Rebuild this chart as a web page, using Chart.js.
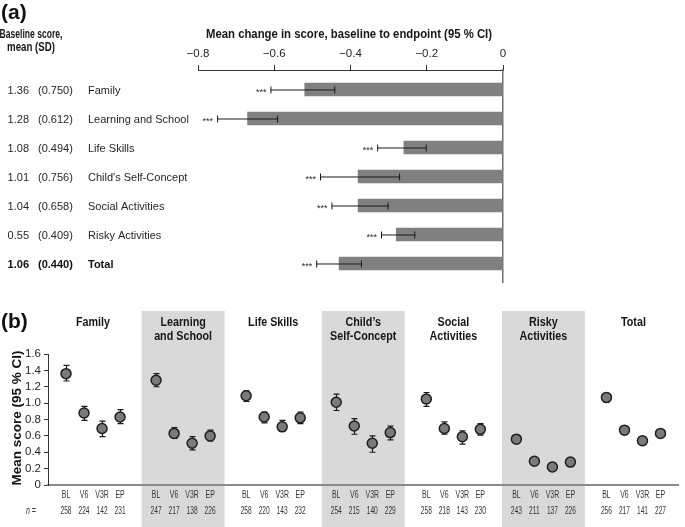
<!DOCTYPE html>
<html>
<head>
<meta charset="utf-8">
<script src="https://cdn.jsdelivr.net/npm/chart.js@4/dist/chart.umd.min.js"></script>
<style>
html,body{margin:0;padding:0;background:#fff;}
#wrap{position:relative;width:685px;height:527px;overflow:hidden;background:#fff;}
canvas{position:absolute;left:0;}
#ca{top:0;}
#cb{top:290px;}
</style>
</head>
<body>
<div id="wrap">
<canvas id="ca" width="685" height="290"></canvas>
<canvas id="cb" width="685" height="237"></canvas>
</div>
<script>
// ---------- Panel (a) data ----------
const categories = ["Family","Learning and School","Life Skills","Child's Self-Concept","Social Activities","Risky Activities","Total"];
const baselineMean = ["1.36","1.28","1.08","1.01","1.04","0.55","1.06"];
const baselineSD = ["(0.750)","(0.612)","(0.494)","(0.756)","(0.658)","(0.409)","(0.440)"];
const changeMean = [-0.52,-0.67,-0.26,-0.38,-0.38,-0.28,-0.43];
const changeLow  = [-0.61,-0.75,-0.33,-0.48,-0.45,-0.32,-0.49];
const changeHigh = [-0.44,-0.59,-0.20,-0.27,-0.30,-0.23,-0.37];
const changeSig = ["***","***","***","***","***","***","***"];
const xTicksA = [-0.8,-0.6,-0.4,-0.2,0];

// ---------- Panel (b) data ----------
const groups = [["Family"],["Learning","and School"],["Life Skills"],["Child\u2019s","Self-Concept"],["Social","Activities"],["Risky","Activities"],["Total"]];
const visits = ["BL","V6","V3R","EP"];
const familyMean = [1.36,0.88,0.69,0.83], familyLow = [1.27,0.79,0.59,0.75], familyHigh = [1.46,0.96,0.78,0.92];
const learningMean = [1.28,0.63,0.51,0.60], learningLow = [1.20,0.57,0.43,0.54], learningHigh = [1.36,0.70,0.59,0.67];
const lifeMean = [1.09,0.83,0.71,0.82], lifeLow = [1.02,0.76,0.66,0.75], lifeHigh = [1.15,0.89,0.79,0.89];
const childMean = [1.01,0.72,0.51,0.64], childLow = [0.91,0.62,0.40,0.55], childHigh = [1.11,0.81,0.60,0.72];
const socialMean = [1.05,0.69,0.59,0.68], socialLow = [0.96,0.62,0.50,0.61], socialHigh = [1.13,0.77,0.66,0.75];
const riskyMean = [0.56,0.29,0.22,0.28], riskyLow = [0.51,0.25,0.18,0.23], riskyHigh = [0.61,0.33,0.27,0.32];
const totalMean = [1.07,0.67,0.54,0.63], totalLow = [1.01,0.62,0.49,0.59], totalHigh = [1.12,0.71,0.59,0.67];
const nFamily = [258,224,142,231], nLearning = [247,217,138,226], nLife = [258,220,143,232], nChild = [254,215,140,229], nSocial = [258,218,143,230], nRisky = [243,211,137,226], nTotal = [256,217,141,227];
const yTicksB = [0,0.2,0.4,0.6,0.8,1.0,1.2,1.4,1.6];

const groupMeans = [familyMean,learningMean,lifeMean,childMean,socialMean,riskyMean,totalMean];
const groupLows = [familyLow,learningLow,lifeLow,childLow,socialLow,riskyLow,totalLow];
const groupHighs = [familyHigh,learningHigh,lifeHigh,childHigh,socialHigh,riskyHigh,totalHigh];
const groupN = [nFamily,nLearning,nLife,nChild,nSocial,nRisky,nTotal];
const shadedGroups = [1,3,5];

const FONT = "'Liberation Sans', Arial, Helvetica, sans-serif";
const TXT = '#262626';
const minus = v => (v < 0 ? '\u2212' + Math.abs(v).toFixed(1) : (v === 0 ? '0' : v.toFixed(1)));
// draw text horizontally condensed by ratio
function condText(ctx, t, x, y, ratio) {
  ctx.fillText(t, x, y, ctx.measureText(t).width * ratio);
}

// ---------- Chart A ----------
const panelAText = {
  id: 'panelAText',
  afterDraw(chart) {
    const ctx = chart.ctx, xs = chart.scales.x, ys = chart.scales.y;
    ctx.save();
    ctx.fillStyle = '#111';
    ctx.font = 'bold 21px ' + FONT;
    ctx.textAlign = 'left'; ctx.textBaseline = 'middle';
    ctx.fillText('(a)', 1, 13);
    ctx.font = 'bold 12.5px ' + FONT;
    ctx.textAlign = 'center';
    ctx.fillStyle = '#161616';
    ctx.fillText('Baseline score,', 31, 35, 63);
    ctx.fillText('mean (SD)', 31, 48, 48);
    ctx.fillText('Mean change in score, baseline to endpoint (95 % CI)', 349, 35, 286);
    categories.forEach((c, i) => {
      const y = ys.getPixelForValue(i);
      const bold = c === 'Total';
      ctx.font = (bold ? 'bold ' : '') + '11px ' + FONT;
      ctx.fillStyle = bold ? '#111' : TXT;
      ctx.textAlign = 'right';
      ctx.fillText(baselineMean[i], 29, y + 1);
      ctx.textAlign = 'left';
      ctx.fillText(baselineSD[i], 38, y + 1);
      ctx.fillText(c, 88, y + 1, 104);
      // error bar
      const x1 = xs.getPixelForValue(changeLow[i]);
      const x2 = xs.getPixelForValue(changeHigh[i]);
      ctx.strokeStyle = '#1a1a1a'; ctx.lineWidth = 1;
      ctx.beginPath();
      ctx.moveTo(x1, y + 0.5); ctx.lineTo(x2, y + 0.5);
      ctx.moveTo(x1 + 0.5, y - 3); ctx.lineTo(x1 + 0.5, y + 4);
      ctx.moveTo(x2 - 0.5, y - 3); ctx.lineTo(x2 - 0.5, y + 4);
      ctx.stroke();
      // significance stars
      ctx.font = '9px ' + FONT;
      ctx.fillStyle = TXT;
      ctx.textAlign = 'right';
      ctx.fillText(changeSig[i], x1 - 4, y + 3);
    });
    ctx.restore();
  }
};

new Chart(document.getElementById('ca'), {
  type: 'bar',
  data: {
    datasets: [{
      data: changeMean.map((v, i) => ({ x: v, y: i })),
      backgroundColor: '#808080',
      borderWidth: 0,
      barThickness: 13
    }]
  },
  options: {
    indexAxis: 'y',
    responsive: false,
    animation: false,
    layout: { padding: { left: 198, right: 182, top: 48, bottom: 8 } },
    plugins: { legend: { display: false }, tooltip: { enabled: false } },
    scales: {
      x: {
        type: 'linear', position: 'top', min: -0.8, max: 0,
        afterBuildTicks: s => { s.ticks = xTicksA.map(v => ({ value: v })); },
        ticks: { callback: v => minus(v), font: { size: 11.5, family: FONT }, color: TXT, padding: 4, maxRotation: 0, autoSkip: false },
        grid: { drawOnChartArea: false, tickLength: 5, color: '#333', lineWidth: 1 },
        border: { display: true, color: '#333', width: 1 },
        afterFit: s => { s.height = 22; }
      },
      y: {
        type: 'linear', position: 'right', reverse: true, min: -0.672, max: 6.638,
        offset: false,
        ticks: { display: false },
        grid: { display: false, offset: false },
        border: { display: true, color: '#6e6e6e', width: 1.5 },
        afterFit: s => { s.width = 0; }
      }
    }
  },
  plugins: [panelAText]
});

// ---------- Chart B ----------
const pointsB = [];
groupMeans.forEach((arr, g) => arr.forEach((v, p) => { pointsB.push({ x: g * 5 + 1 + p, y: v }); }));

const panelBDeco = {
  id: 'panelBDeco',
  beforeDraw(chart) {
    const ctx = chart.ctx, xs = chart.scales.x;
    ctx.save();
    ctx.fillStyle = '#d9d9d9';
    shadedGroups.forEach(g => {
      const a = xs.getPixelForValue(g * 5 + 0.2), b = xs.getPixelForValue(g * 5 + 4.8);
      ctx.fillRect(a, 21, b - a, chart.height - 21);
    });
    ctx.restore();
  },
  beforeDatasetsDraw(chart) {
    const ctx = chart.ctx, xs = chart.scales.x, ys = chart.scales.y;
    ctx.save();
    ctx.strokeStyle = '#1a1a1a'; ctx.lineWidth = 1.2;
    groupMeans.forEach((arr, g) => arr.forEach((v, p) => {
      const x = Math.round(xs.getPixelForValue(g * 5 + 1 + p)) + 0.5;
      const y1 = ys.getPixelForValue(groupLows[g][p]), y2 = ys.getPixelForValue(groupHighs[g][p]);
      ctx.beginPath();
      ctx.moveTo(x, y1); ctx.lineTo(x, y2);
      ctx.moveTo(x - 3, y1); ctx.lineTo(x + 3, y1);
      ctx.moveTo(x - 3, y2); ctx.lineTo(x + 3, y2);
      ctx.stroke();
    }));
    ctx.restore();
  },
  afterDraw(chart) {
    const ctx = chart.ctx, xs = chart.scales.x;
    ctx.save();
    ctx.fillStyle = '#111';
    ctx.font = 'bold 21px ' + FONT;
    ctx.textAlign = 'left'; ctx.textBaseline = 'middle';
    ctx.fillText('(b)', 1, 32);
    ctx.fillStyle = '#161616';
    ctx.font = 'bold 12.5px ' + FONT;
    ctx.textAlign = 'center';
    groups.forEach((lines, g) => {
      const cx = xs.getPixelForValue(g * 5 + 2.5);
      lines.forEach((t, k) => condText(ctx, t, cx, 33 + k * 14, 0.86));
    });
    ctx.fillStyle = '#333';
    groupN.forEach((ns, g) => ns.forEach((n, p) => {
      const x = xs.getPixelForValue(g * 5 + 1 + p);
      ctx.font = '10.5px ' + FONT;
      condText(ctx, visits[p], x, 205, 0.66);
      ctx.font = '10px ' + FONT;
      condText(ctx, String(n), x, 221, 0.66);
    }));
    ctx.font = 'italic 10px ' + FONT;
    condText(ctx, 'n =', 31, 221, 0.7);
    // y title
    ctx.translate(17, 128);
    ctx.rotate(-Math.PI / 2);
    ctx.font = 'bold 13.5px ' + FONT;
    ctx.fillStyle = '#111';
    ctx.fillText('Mean score (95 % CI)', 0, 0, 138);
    ctx.restore();
  }
};

new Chart(document.getElementById('cb'), {
  type: 'scatter',
  data: {
    datasets: [{
      data: pointsB,
      pointRadius: 5,
      pointBackgroundColor: '#7a7a7a',
      pointBorderColor: '#1e1e1e',
      pointBorderWidth: 1.5,
      showLine: false
    }]
  },
  options: {
    responsive: false,
    animation: false,
    layout: { padding: { left: 0, right: 2, top: 64, bottom: 42 } },
    plugins: { legend: { display: false }, tooltip: { enabled: false } },
    scales: {
      x: {
        type: 'linear', min: 0, max: 35,
        ticks: { display: false },
        grid: { display: false },
        border: { display: true, color: '#8a8a8a', width: 2 },
        afterFit: s => { s.height = 0; }
      },
      y: {
        type: 'linear', min: 0, max: 1.6,
        afterBuildTicks: s => { s.ticks = yTicksB.map(v => ({ value: v })); },
        ticks: { callback: v => (v === 0 ? '0' : v.toFixed(1)), font: { size: 11.5, family: FONT }, color: TXT, padding: 3, autoSkip: false },
        grid: { drawOnChartArea: false, tickLength: 4, color: '#333' },
        border: { display: true, color: '#333', width: 1 },
        afterFit: s => { s.width = 48; }
      }
    }
  },
  plugins: [panelBDeco]
});
</script>
</body>
</html>
